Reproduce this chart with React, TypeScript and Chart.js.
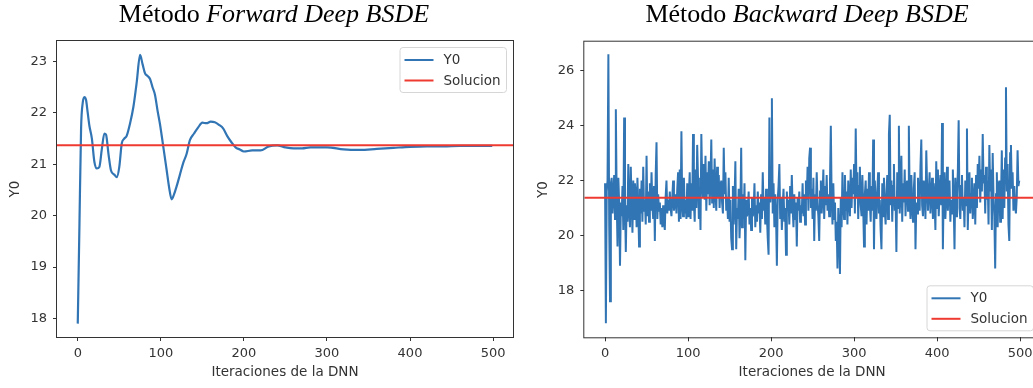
import React, { useEffect, useRef } from "react";
import { Chart, registerables } from "chart.js";

Chart.register(...registerables);

// ---------- data ----------
const xTicks = [0, 100, 200, 300, 400, 500];
const xRange = [-25, 524];

const forwardIters = [
  0, 2, 4, 6, 8, 10, 12, 14, 17, 20, 23, 26, 29, 32, 34, 37, 40, 44, 47, 50,
  53, 56, 59, 63, 67, 71, 75, 78, 81, 84, 87, 90, 93, 96, 99, 103, 107, 110,
  113, 116, 119, 123, 127, 131, 135, 140, 145, 150, 155, 160, 165, 170, 175,
  180, 185, 190, 195, 200, 210, 220, 230, 240, 250, 260, 270, 280, 300, 320,
  340, 360, 380, 400, 420, 440, 460, 480, 499,
];
const forwardY0 = [
  17.9, 19.8, 21.7, 22.2, 22.31, 22.25, 22.0, 21.75, 21.5, 21.05, 20.92, 20.95,
  21.3, 21.6, 21.58, 21.2, 20.88, 20.8, 20.75, 20.95, 21.41, 21.5, 21.56, 21.8,
  22.12, 22.6, 23.13, 22.95, 22.77, 22.72, 22.66, 22.5, 22.35, 22.05, 21.78,
  21.34, 20.89, 20.55, 20.32, 20.42, 20.57, 20.8, 21.03, 21.2, 21.47, 21.6,
  21.72, 21.81, 21.8, 21.83, 21.82, 21.77, 21.7, 21.55, 21.43, 21.33, 21.29,
  21.25, 21.27, 21.27, 21.35, 21.37, 21.33, 21.31, 21.31, 21.33, 21.33, 21.29,
  21.28, 21.3, 21.32, 21.34, 21.35, 21.35, 21.36, 21.36, 21.36,
];
const forwardYTicks = [18, 19, 20, 21, 22, 23];
const forwardYRange = [17.64, 23.4];

const backwardY0 = [
  21.9, 16.8, 21.6, 22.0, 26.6, 20.4, 17.6, 21.9, 22.1, 20.8,
  21.5, 22.2, 20.6, 24.6, 21.4, 19.6, 22.1, 21.2, 18.9, 21.0,
  20.7, 21.8, 20.2, 24.3, 21.3, 19.4, 21.1, 20.5, 22.6, 21.0,
  20.3, 22.5, 21.2, 20.1, 22.0, 20.6, 21.9, 21.5, 20.3, 22.1,
  21.0, 19.6, 21.7, 20.8, 22.0, 20.5, 22.5, 20.9, 21.3, 20.4,
  22.9, 20.7, 21.6, 20.5, 21.9, 20.9, 22.3, 21.1, 20.6, 21.8,
  19.8, 22.2, 23.4, 20.6, 21.5, 20.9, 21.2, 20.4, 21.0, 20.3,
  21.1, 20.5, 20.2, 21.4, 22.0, 20.8, 21.3, 20.9, 21.6, 21.0,
  20.7, 21.4, 22.0, 20.9, 21.2, 21.5, 20.8, 21.7, 22.3, 20.5,
  22.4, 20.6, 23.8, 21.1, 20.7, 22.1, 20.8, 21.3, 20.6, 21.9,
  20.7, 21.5, 22.3, 20.6, 21.9, 20.9, 23.7, 21.2, 20.5, 22.4,
  21.0, 23.3, 22.1, 20.6, 21.6, 20.2, 23.7, 22.0, 21.4, 22.6,
  21.3, 22.9, 20.9, 22.3, 21.5, 22.7, 21.1, 22.0, 23.5, 21.2,
  22.4, 21.0, 22.8, 21.6, 20.9, 22.5, 21.4, 22.2, 21.0, 21.8,
  22.0, 21.2, 20.8, 23.2, 21.5, 22.3, 20.9, 21.4, 20.6, 22.1,
  20.5, 21.3, 19.9, 19.5, 21.8, 20.4, 21.2, 22.7, 19.5, 21.0,
  20.6, 21.7, 19.9, 20.8, 23.2, 20.3, 21.5, 20.6, 21.9, 19.1,
  21.3, 20.7, 20.9, 21.6, 20.4, 21.0, 20.2, 21.4, 20.7, 20.9,
  21.9, 20.3, 21.1, 20.5, 21.6, 20.8, 21.2, 20.1, 21.5, 20.6,
  22.3, 20.9, 21.4, 20.4, 21.7, 20.7, 19.9, 19.3, 24.3, 21.2,
  21.6, 25.0, 20.8, 21.9, 20.3, 21.5, 20.7, 18.9, 21.3, 21.8,
  22.6, 20.6, 21.4, 20.2, 21.1, 21.7, 20.5, 21.0, 19.3, 21.6,
  20.9, 21.3, 20.4, 21.8, 20.8, 22.2, 21.0, 20.3, 21.5, 20.6,
  21.2, 19.6, 21.4, 20.9, 21.6, 20.5, 21.1, 20.8, 21.9, 20.7,
  21.5, 20.4, 22.0, 21.3, 22.5, 20.9, 22.8, 23.2, 21.0, 21.7,
  20.6, 22.1, 19.8, 21.5, 20.9, 22.3, 21.2, 20.7, 19.8, 21.6,
  22.0, 20.8, 21.4, 22.4, 20.6, 21.8, 21.1, 22.2, 20.9, 21.5,
  20.7, 22.0, 24.0, 21.3, 20.4, 21.9, 20.6, 21.2, 19.8, 20.5,
  18.8, 21.0, 20.2, 18.6, 21.4, 20.3, 22.3, 21.1, 20.6, 22.2,
  20.9, 21.6, 20.4, 22.0, 21.3, 20.7, 22.4, 21.0, 22.1, 21.5,
  22.6, 20.8, 23.9, 21.4, 22.3, 20.6, 21.8, 22.5, 21.1, 20.7,
  22.2, 21.0, 19.6, 21.5, 22.0, 20.4, 21.7, 20.9, 22.3, 21.2,
  20.5, 21.8, 20.9, 23.5, 19.5, 22.0, 21.2, 20.6, 21.6, 22.3,
  20.8, 21.3, 20.2, 19.5, 21.9, 20.7, 22.1, 21.0, 20.4, 21.5,
  22.2, 20.6, 23.7, 24.4, 21.1, 22.0, 20.5, 21.8, 22.6, 20.9,
  21.4, 19.4, 22.3, 21.0, 24.0, 20.8, 21.6, 22.9, 20.5, 21.9,
  21.2, 22.4, 20.7, 21.8, 22.0, 20.9, 24.0, 21.3, 20.6, 22.2,
  21.0, 20.5, 21.7, 22.3, 19.5, 21.2, 20.8, 22.1, 21.4, 20.9,
  22.5, 23.5, 21.1, 20.7, 22.0, 21.5, 20.6, 23.1, 21.8, 20.9,
  21.6, 22.3, 20.8, 21.4, 22.1, 20.6, 21.9, 21.2, 20.2, 22.7,
  21.0, 22.4, 20.7, 21.6, 22.2, 21.1, 24.1, 19.5, 21.8, 22.3,
  20.6, 21.4, 22.5, 20.9, 21.7, 22.0, 20.5, 21.3, 20.8, 22.4,
  21.2, 19.5, 22.1, 20.7, 21.5, 22.3, 24.2, 21.0, 20.6, 21.8,
  22.2, 20.9, 21.4, 20.3, 22.0, 21.1, 23.9, 20.2, 21.6, 22.3,
  20.8, 21.5, 22.1, 20.6, 21.2, 21.9, 20.4, 22.2, 21.0, 22.6,
  21.7, 22.9, 21.2, 22.4, 21.6, 23.7, 21.9, 22.2, 20.8, 22.5,
  21.3, 22.0, 20.4, 23.3, 21.6, 22.4, 20.2, 23.0, 21.4, 20.7,
  18.8, 21.5, 22.3, 20.3, 21.8, 22.0, 20.5, 21.2, 23.1, 20.6,
  22.4, 21.0, 22.8, 25.4, 21.6, 22.6, 20.4, 19.8, 23.0, 23.3,
  21.7, 22.3, 20.9, 21.8, 21.1, 20.8, 21.4, 23.1, 21.8, 22.0,
];
const backwardYTicks = [18, 20, 22, 24, 26];
const backwardYRange = [16.29, 27.06];

const solucion = 21.37;
const legendLabels = ["Y0", "Solucion"];

// ---------- styles ----------
const BLUE = "#3275b4";
const RED = "#ee3a30";
const AXIS = "#333333";
const TEXT = "#333333";
const FONT = "'DejaVu Sans', sans-serif";

const framePlugin = {
  id: "frame",
  afterDatasetsDraw(chart: any) {
    const { ctx, chartArea } = chart;
    const { left, top, right, bottom } = chartArea;
    ctx.save();
    ctx.strokeStyle = AXIS;
    ctx.lineWidth = 1;
    ctx.strokeRect(left - 0.5, top - 0.5, right - left + 1, bottom - top + 1);
    ctx.restore();
  },
};

const legendPlugin = {
  id: "mplLegend",
  afterDraw(chart: any, _args: any, opts: any) {
    const { ctx, chartArea } = chart;
    const w = 106.5;
    const h = 45;
    const inset = 6.5;
    const bx = chartArea.right - inset - w;
    const by =
      opts.corner === "lower right"
        ? chartArea.bottom - inset - h
        : chartArea.top + inset;
    ctx.save();
    ctx.beginPath();
    const r = 3;
    ctx.moveTo(bx + r, by);
    ctx.lineTo(bx + w - r, by);
    ctx.quadraticCurveTo(bx + w, by, bx + w, by + r);
    ctx.lineTo(bx + w, by + h - r);
    ctx.quadraticCurveTo(bx + w, by + h, bx + w - r, by + h);
    ctx.lineTo(bx + r, by + h);
    ctx.quadraticCurveTo(bx, by + h, bx, by + h - r);
    ctx.lineTo(bx, by + r);
    ctx.quadraticCurveTo(bx, by, bx + r, by);
    ctx.closePath();
    ctx.fillStyle = "rgba(255,255,255,0.85)";
    ctx.fill();
    ctx.strokeStyle = "#d6d6d6";
    ctx.lineWidth = 1;
    ctx.stroke();
    const items = chart.data.datasets.map((d: any, i: number) => ({
      text: legendLabels[i],
      color: d.borderColor,
    }));
    items.forEach((it: any, i: number) => {
      const y = by + 12.5 + i * 20.5;
      ctx.beginPath();
      ctx.strokeStyle = it.color;
      ctx.lineWidth = 2;
      ctx.moveTo(bx + 4.5, y);
      ctx.lineTo(bx + 33.5, y);
      ctx.stroke();
      ctx.fillStyle = TEXT;
      ctx.font = `13.5px ${FONT}`;
      ctx.textBaseline = "middle";
      ctx.textAlign = "left";
      ctx.fillText(it.text, bx + 43.5, y + 0.5);
    });
    ctx.restore();
  },
};

interface PanelProps {
  left: number;
  width: number;
  xs: number[];
  ys: number[];
  yTicks: number[];
  yRange: number[];
  smooth: boolean;
  lineWidth: number;
  plotLeft: number;
  plotTop: number;
  plotBottom: number;
  padRight: number;
  yTitlePad: number;
  corner: string;
}

function Panel(p: PanelProps) {
  const ref = useRef<HTMLCanvasElement | null>(null);
  useEffect(() => {
    if (!ref.current) return;
    const points = p.ys.map((y, i) => ({ x: p.xs[i], y }));
    const tickFont = { family: FONT, size: 13 };
    const titleFont = { family: FONT, size: 13.5 };
    const chart = new Chart(ref.current, {
      type: "line",
      data: {
        datasets: [
          {
            label: legendLabels[0],
            data: points,
            borderColor: BLUE,
            borderWidth: p.lineWidth,
            pointRadius: 0,
            cubicInterpolationMode: p.smooth ? "monotone" : "default",
            tension: 0,
            order: 2,
          } as any,
          {
            label: legendLabels[1],
            data: [
              { x: xRange[0], y: solucion },
              { x: xRange[1], y: solucion },
            ],
            borderColor: RED,
            borderWidth: 2,
            pointRadius: 0,
            order: 1,
          },
        ],
      },
      options: {
        animation: false,
        responsive: false,
        events: [],
        layout: {
          padding: { left: 0, top: p.plotTop, right: p.padRight, bottom: 0 },
        },
        plugins: {
          legend: { display: false },
          tooltip: { enabled: false },
          mplLegend: { corner: p.corner },
        } as any,
        scales: {
          x: {
            type: "linear",
            min: xRange[0],
            max: xRange[1],
            afterFit: (s: any) => {
              s.height = 388 - p.plotBottom;
            },
            afterBuildTicks: (a: any) => {
              a.ticks = xTicks.map((v) => ({ value: v }));
            },
            grid: {
              display: true,
              drawOnChartArea: false,
              drawTicks: true,
              tickLength: 4,
              color: AXIS,
              lineWidth: 1,
            },
            border: { display: false },
            ticks: {
              font: tickFont,
              color: TEXT,
              padding: 4.5,
              maxRotation: 0,
              autoSkip: false,
            },
            title: {
              display: true,
              text: "Iteraciones de la DNN",
              font: titleFont,
              color: TEXT,
              padding: { top: 0, bottom: 7.5 },
            },
          },
          y: {
            type: "linear",
            min: p.yRange[0],
            max: p.yRange[1],
            afterFit: (s: any) => {
              s.width = p.plotLeft;
            },
            afterBuildTicks: (a: any) => {
              a.ticks = p.yTicks.map((v) => ({ value: v }));
            },
            grid: {
              display: true,
              drawOnChartArea: false,
              drawTicks: true,
              tickLength: 4,
              color: AXIS,
              lineWidth: 1,
            },
            border: { display: false },
            ticks: { font: tickFont, color: TEXT, padding: 6, autoSkip: false },
            title: {
              display: true,
              text: "Y0",
              font: titleFont,
              color: TEXT,
              padding: { top: p.yTitlePad, bottom: 0 },
            },
          },
        },
      } as any,
      plugins: [framePlugin, legendPlugin],
    });
    return () => chart.destroy();
  }, []);
  return (
    <canvas
      ref={ref}
      width={p.width}
      height={388}
      style={{ position: "absolute", left: p.left, top: 0, width: p.width, height: 388 }}
    />
  );
}

function Title({ center, italic }: { center: number; italic: string }) {
  return (
    <div
      style={{
        position: "absolute",
        left: center - 250,
        width: 500,
        top: -1,
        textAlign: "center",
        fontFamily: "'Liberation Serif', 'Times New Roman', serif",
        fontSize: 26,
        lineHeight: "30px",
        color: "#000",
        whiteSpace: "nowrap",
      }}
    >
      Método <i>{italic}</i>
    </div>
  );
}

export default function App() {
  const backwardIters = backwardY0.map((_, i) => i);
  return (
    <div
      style={{
        position: "fixed",
        left: 0,
        top: 0,
        width: 1033,
        height: 388,
        overflow: "hidden",
        background: "#fff",
      }}
    >
      <Panel
        left={0}
        width={520}
        xs={forwardIters}
        ys={forwardY0}
        yTicks={forwardYTicks}
        yRange={forwardYRange}
        smooth={true}
        lineWidth={2.2}
        plotLeft={57}
        plotTop={41}
        plotBottom={337}
        padRight={7}
        yTitlePad={7}
        corner="upper right"
      />
      <Panel
        left={520}
        width={530}
        xs={backwardIters}
        ys={backwardY0}
        yTicks={backwardYTicks}
        yRange={backwardYRange}
        smooth={false}
        lineWidth={2}
        plotLeft={64.3}
        plotTop={41.7}
        plotBottom={337.3}
        padRight={10}
        yTitlePad={15.3}
        corner="lower right"
      />
      <Title center={274} italic="Forward Deep BSDE" />
      <Title center={807} italic="Backward Deep BSDE" />
    </div>
  );
}
